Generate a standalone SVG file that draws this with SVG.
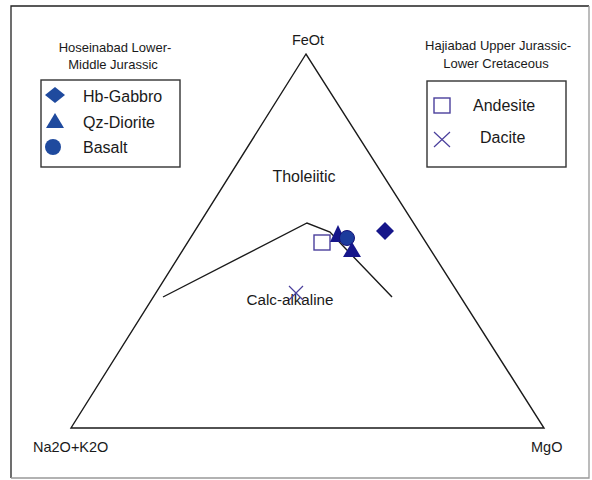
<svg xmlns="http://www.w3.org/2000/svg" width="592" height="480" viewBox="0 0 592 480">
<style>
text{font-family:"Liberation Sans","DejaVu Sans",sans-serif;fill:#1a1a1a}
.t13{font-size:13px}
.t16{font-size:16px}
.ax{font-size:14.5px}
.line{fill:none;stroke:#1a1a1a;stroke-width:1.4}
.box{fill:#fff;stroke:#333;stroke-width:1.4}
.leg{fill:#1f4a9e}
.pt{fill:#16168a}
.sq{fill:#fff;stroke:#4a3f9c;stroke-width:1.4}
.x{stroke:#4a3f9c;stroke-width:1.2;fill:none}
</style>
<rect x="0" y="0" width="592" height="480" fill="#fff"/>
<g id="frame">
<path d="M11,478 V6 H589" fill="none" stroke="#222" stroke-width="1.3"/>
<path d="M589,6 V478 H11" fill="none" stroke="#999" stroke-width="1.3"/>
</g>
<g id="triangle">
<polygon class="line" points="306,54 71,428 544,428"/>
<text class="ax" x="308" y="45" text-anchor="middle">FeOt</text>
<text class="ax" x="33" y="452">Na2O+K2O</text>
<text class="ax" x="531" y="452">MgO</text>
</g>
<g id="connectors">
<polyline class="line" points="163,297 307,223 330,232 345,248 392,297"/>
</g>
<g id="fields">
<text class="t16" x="304" y="182" text-anchor="middle">Tholeiitic</text>
<text x="290" y="305" text-anchor="middle" style="font-size:15.2px">Calc-alkaline</text>
</g>
<g id="legend-hoseinabad">
<text class="t13" x="115" y="52" text-anchor="middle">Hoseinabad Lower-</text>
<text class="t13" x="113" y="69" text-anchor="middle">Middle Jurassic</text>
<rect class="box" x="41" y="80" width="139" height="87"/>
<polygon class="leg" points="55,87 65,95 55,103 45,95"/>
<polygon class="leg" points="55,113 64,128 46,128"/>
<circle class="leg" cx="53" cy="147" r="8"/>
<text class="t16" x="83" y="102">Hb-Gabbro</text>
<text class="t16" x="83" y="128">Qz-Diorite</text>
<text class="t16" x="83" y="153">Basalt</text>
</g>
<g id="legend-hajiabad">
<text class="t13" x="498" y="50" text-anchor="middle">Hajiabad Upper Jurassic-</text>
<text class="t13" x="496" y="68" text-anchor="middle">Lower Cretaceous</text>
<rect class="box" x="427" y="81" width="139" height="86"/>
<rect class="sq" x="434" y="98" width="16" height="15"/>
<path class="x" d="M434,132 L450,147 M450,132 L434,147"/>
<text class="t16" x="473" y="111">Andesite</text>
<text class="t16" x="480" y="143">Dacite</text>
</g>
<g id="data">
<rect class="sq" x="314" y="235" width="16" height="15"/>
<polygon class="pt" points="338,225 346,242 330,242"/>
<circle cx="347" cy="238" r="7.5" fill="#1c3c9c" stroke="#14147a" stroke-width="1"/>
<polygon class="pt" points="352,242 361,257 343,257"/>
<polygon class="pt" points="385,222 394,231 385,240 376,231"/>
<path class="x" d="M289,286 L303,300 M303,286 L289,300"/>
</g>
</svg>
